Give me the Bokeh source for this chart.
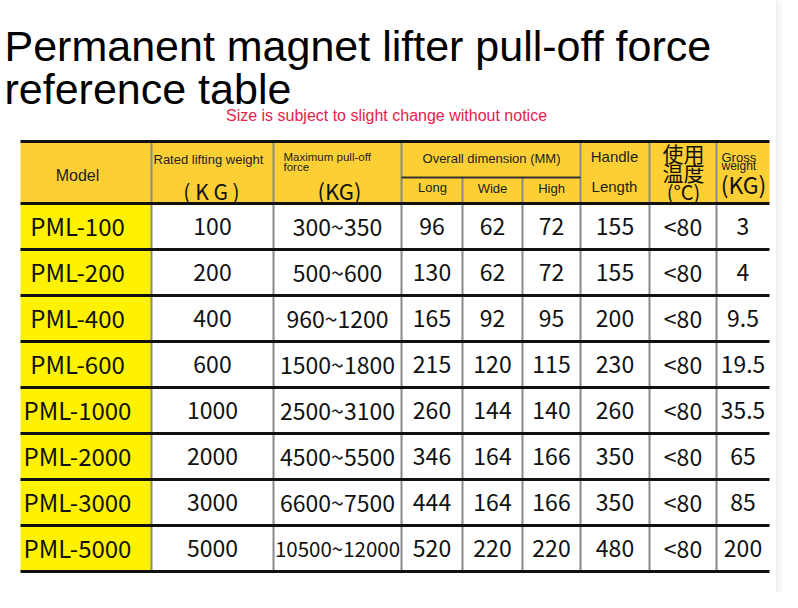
from bokeh.plotting import figure
from bokeh.models import Range1d, ColumnDataSource
from bokeh.core.properties import value
from bokeh.embed import file_html
from bokeh.resources import INLINE

# ---------------- data ----------------
models = ["PML-100", "PML-200", "PML-400", "PML-600", "PML-1000", "PML-2000", "PML-3000", "PML-5000"]
rated = ["100", "200", "400", "600", "1000", "2000", "3000", "5000"]
pull_off = ["300~350", "500~600", "960~1200", "1500~1800", "2500~3100", "4500~5500", "6600~7500", "10500~12000"]
dim_long = ["96", "130", "165", "215", "260", "346", "444", "520"]
dim_wide = ["62", "62", "92", "120", "144", "164", "164", "220"]
dim_high = ["72", "72", "95", "115", "140", "166", "166", "220"]
handle_len = ["155", "155", "200", "230", "260", "350", "350", "480"]
temperature = ["<80", "<80", "<80", "<80", "<80", "<80", "<80", "<80"]
gross_weight = ["3", "4", "9.5", "19.5", "35.5", "65", "85", "200"]

title_lines = ["Permanent magnet lifter pull-off force", "reference table"]
subtitle = "Size is subject to slight change without notice"

# ---------------- layout (page pixel coords) ----------------
W, H = 782, 592
col_edges = [20, 151, 273, 401, 462, 522, 580, 649, 716, 769]
head_top, head_bot = 141, 203
row_h = 46
n = len(models)
row_edges = [head_bot + i * row_h for i in range(n + 1)]
sub_line = 177

HEAD = "#FCD034"
YEL = "#FFF200"
GRID = "#8a8a8a"

p = figure(width=W, height=H, output_backend="svg", toolbar_location=None,
           x_range=Range1d(0, W), y_range=Range1d(H, 0),
           min_border=0, outline_line_color=None)
p.axis.visible = False
p.grid.visible = False
p.background_fill_color = "white"
p.border_fill_color = "white"

# grey strip on the right
p.quad(left=[776], right=[W], top=[0], bottom=[H], fill_color="#f7f7f7", line_color=None)
p.segment(x0=[776], x1=[776], y0=[0], y1=[H], line_color="#ececec", line_width=1)

# header background
p.quad(left=[col_edges[0]], right=[col_edges[-1]], top=[head_top], bottom=[head_bot],
       fill_color=HEAD, line_color=None)
# model column yellow
p.quad(left=[col_edges[0]], right=[col_edges[1]], top=[head_bot], bottom=[row_edges[-1]],
       fill_color=YEL, line_color=None)

# vertical lines
vx0, vy0, vy1 = [], [], []
for x in col_edges[1:-1]:
    vx0.append(x)
    vy0.append(sub_line if x in (462, 522) else head_top)
    vy1.append(row_edges[-1])
p.segment(x0=vx0, x1=vx0, y0=vy0, y1=vy1, line_color=GRID, line_width=2)

# sub-header line
p.segment(x0=[401], x1=[580], y0=[sub_line], y1=[sub_line], line_color="#333333", line_width=2)

# horizontal thick lines
hy = [head_top] + row_edges
p.segment(x0=[col_edges[0]] * len(hy), x1=[col_edges[-1]] * len(hy), y0=hy, y1=hy,
          line_color="#111111", line_width=3)


def txt(x, y, t, size, font="Liberation Sans", align="center", color="#222222"):
    p.text(x=[x], y=[y], text=[t], text_font=value(font), text_font_size=f"{size}px",
           text_align=align, text_baseline="middle", text_color=color)


# ---------------- titles ----------------
txt(4, 45, title_lines[0], 43, align="left", color="#000000")
txt(4, 88, title_lines[1], 43, align="left", color="#000000")
txt(386, 115, subtitle, 16, color="#E8214A")

# ---------------- header texts ----------------
txt(77, 175, "Model", 16)
txt(153, 159, "Rated lifting weight", 13, align="left")
txt(211, 190, "( K G )", 21, font="Noto Sans CJK SC", color="#111111")
txt(283, 156, "Maximum pull-off", 11.5, align="left")
txt(283, 166, "force", 11.5, align="left")
txt(339, 189, "(KG)", 22, font="Noto Sans CJK SC", color="#111111")
txt(491, 158, "Overall dimension (MM)", 13)
txt(432, 187, "Long", 13)
txt(492, 188, "Wide", 13)
txt(551, 188, "High", 13)
txt(614, 156, "Handle", 15)
txt(614, 186, "Length", 15)
txt(683, 152, "使用", 21, font="Noto Sans CJK SC", color="#111111")
txt(683, 171, "温度", 21, font="Noto Sans CJK SC", color="#111111")
txt(683, 191, "(°C)", 20, font="Noto Sans CJK SC", color="#111111")
txt(721, 157, "Gross", 13, align="left")
txt(721, 165, "weight", 12, align="left")
txt(743, 183, "(KG)", 23, font="Noto Sans CJK SC", color="#111111")

# ---------------- body cells ----------------
columns = [models, rated, pull_off, dim_long, dim_wide, dim_high, handle_len, temperature, gross_weight]
centers = [(col_edges[i] + col_edges[i + 1]) / 2 for i in range(len(col_edges) - 1)]
centers[0] = 77
digits = set("0123456789.")
xs, ys, ts, fs = [], [], [], []
for ci, col in enumerate(columns):
    for ri, t in enumerate(col):
        w = col_edges[ci + 1] - col_edges[ci]
        size = 24 if ci == 0 else 23
        est = len(t) * 0.56 * size
        if est > w - 2:
            size = max(14, (w - 2) / (len(t) * 0.56))
        yc = (row_edges[ri] + row_edges[ri + 1]) / 2
        if not set(t) <= digits:
            yc -= 1.0
        xs.append(centers[ci])
        ys.append(yc)
        ts.append(t)
        fs.append(f"{size:.1f}px")

src = ColumnDataSource(dict(x=xs, y=ys, text=ts, fs=fs))
p.text(x="x", y="y", text="text", source=src, text_font=value("Noto Sans CJK SC"),
       text_font_size="fs", text_align="center", text_baseline="middle", text_color="#111111")

open("out.html", "w").write(file_html(p, INLINE))
